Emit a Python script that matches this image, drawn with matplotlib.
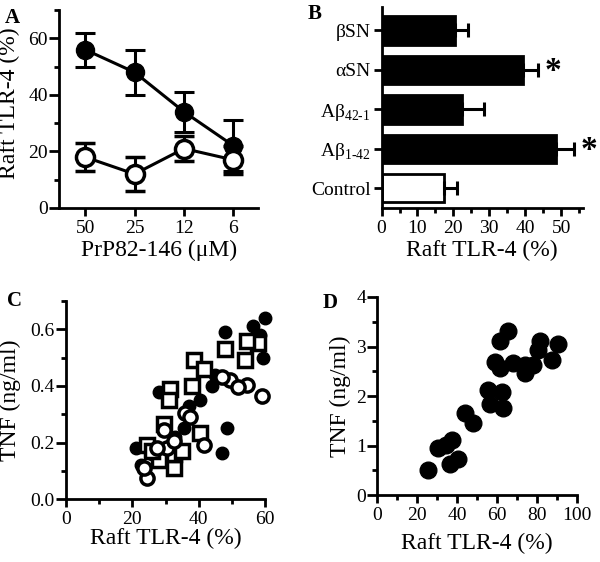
import matplotlib
matplotlib.use("Agg")
from matplotlib import pyplot as plt
from matplotlib.ticker import MultipleLocator, FormatStrFormatter
import numpy as np

plt.rcParams["font.family"] = ["Liberation Serif", "DejaVu Serif"]
plt.rcParams["mathtext.fontset"] = "custom"
plt.rcParams["mathtext.rm"] = "Liberation Serif"
plt.rcParams["axes.linewidth"] = 2.0
plt.rcParams["xtick.major.width"] = 2.0
plt.rcParams["ytick.major.width"] = 2.0
plt.rcParams["xtick.minor.width"] = 2.0
plt.rcParams["ytick.minor.width"] = 2.0
plt.rcParams["xtick.major.size"] = 6
plt.rcParams["ytick.major.size"] = 7
plt.rcParams["xtick.minor.size"] = 3.5
plt.rcParams["ytick.minor.size"] = 3.5
plt.rcParams["xtick.major.pad"] = 2.5
plt.rcParams["ytick.major.pad"] = 1
plt.rcParams["xtick.labelsize"] = 14
plt.rcParams["ytick.labelsize"] = 14

# panel A
conc_labels = ["50", "25", "12", "6"]
a_filled = [56, 48, 34, 22]
a_filled_err = [6, 8, 7, 9]
a_open = [18, 12, 21, 17]
a_open_err = [5, 6, 4.5, 5]

# panel B
b_labels = ["Control", "Aβ$_{\\mathrm{1‐42}}$", "Aβ$_{\\mathrm{42‐1}}$", "αSN", "βSN"]
b_values = [17.5, 48.5, 22.5, 39.5, 20.5]
b_err = [3.5, 5, 6, 4, 3.5]
b_colors = ["white", "black", "black", "black", "black"]
b_star = [False, True, False, True, False]

# panel C
c_fill_x = [60, 56.5, 58.5, 48, 28, 40.5, 44, 48.5, 47, 21, 22.5, 59.5, 35.5, 37, 30, 33, 26, 45]
c_fill_y = [0.64, 0.61, 0.58, 0.59, 0.38, 0.35, 0.40, 0.25, 0.165, 0.18, 0.12, 0.50, 0.25, 0.33, 0.15, 0.22, 0.16, 0.44]
c_sq_x = [38.5, 48, 54, 58, 54.5, 31.5, 31, 38, 29.5, 40.5, 32.5, 24.5, 32.5, 35, 41.5, 28, 26]
c_sq_y = [0.49, 0.53, 0.49, 0.55, 0.56, 0.39, 0.35, 0.40, 0.265, 0.235, 0.11, 0.19, 0.16, 0.17, 0.46, 0.14, 0.17]
c_op_x = [59, 54.5, 49.5, 52, 47, 36, 37.5, 29.5, 41.5, 24.5, 23.5, 30.5, 27.5, 32.5]
c_op_y = [0.365, 0.405, 0.42, 0.395, 0.43, 0.305, 0.29, 0.245, 0.19, 0.075, 0.11, 0.18, 0.18, 0.205]

# panel D
d_x = [65.5, 61.3, 81.3, 90.5, 80.5, 87.2, 58.8, 61.3, 68, 73.8, 78, 73.8,
       55.5, 62.2, 56.3, 63, 43.8, 48, 30.5, 34.5, 37.2, 40.5, 36.3, 25.5]
d_y = [3.32, 3.12, 3.12, 3.06, 2.93, 2.72, 2.69, 2.56, 2.66, 2.62, 2.62, 2.46,
       2.12, 2.09, 1.85, 1.75, 1.65, 1.45, 0.95, 1.02, 1.11, 0.74, 0.64, 0.51]

fig = plt.figure(figsize=(6.0, 5.62), dpi=100)


def style(ax):
    ax.spines["top"].set_visible(False)
    ax.spines["right"].set_visible(False)
    ax.tick_params(which="both", direction="out")


# A
ax = fig.add_axes([0.0983, 0.630, 0.332, 0.352])
style(ax)
xa = np.arange(len(conc_labels))
ax.errorbar(xa, a_filled, yerr=a_filled_err, fmt="-o", color="black", lw=2.2,
            ms=13, capsize=7, capthick=2.2, elinewidth=2.2)
ax.errorbar(xa, a_open, yerr=a_open_err, fmt="-o", color="black", mfc="white",
            mew=2.5, lw=2.2, ms=13, capsize=7, capthick=2.2, elinewidth=2.2)
ax.set_xlim(-0.53, 3.5)
ax.set_ylim(0, 70)
ax.set_xticks(xa)
ax.set_xticklabels(conc_labels)
ax.yaxis.set_major_locator(MultipleLocator(20))
ax.yaxis.set_minor_locator(MultipleLocator(10))
ax.set_xlabel("PrP82-146 (μM)", fontsize=17, labelpad=2)
ax.set_ylabel("Raft TLR-4 (%)", fontsize=17)
ax.yaxis.set_label_coords(-0.196, 0.53)
fig.text(0.008, 0.985, "A", fontsize=15, fontweight="bold", va="top")

# B
ax = fig.add_axes([0.636, 0.630, 0.335, 0.358])
style(ax)
yb = np.arange(len(b_labels))
ax.barh(yb, b_values, height=0.72, color=b_colors, edgecolor="black", lw=2)
ax.errorbar(b_values, yb, xerr=[np.zeros(len(b_err)), b_err], fmt="none",
            ecolor="black", elinewidth=2.2, capsize=5, capthick=2.2)
for yi, v, e, s in zip(yb, b_values, b_err, b_star):
    if s:
        ax.text(v + e + 2, yi - 0.05, "*", fontsize=24, fontweight="bold",
                va="center", ha="left", clip_on=False)
ax.set_xlim(0, 56)
ax.set_ylim(-0.5, 4.6)
ax.set_yticks(yb)
ax.set_yticklabels(b_labels)
ax.tick_params(axis="y", length=6, pad=2)
ax.xaxis.set_major_locator(MultipleLocator(10))
ax.xaxis.set_minor_locator(MultipleLocator(5))
ax.set_xlabel("Raft TLR-4 (%)", fontsize=17, labelpad=2)
fig.text(0.512, 0.992, "B", fontsize=15, fontweight="bold", va="top")

# C
ax = fig.add_axes([0.11, 0.1116, 0.3317, 0.353])
style(ax)
ax.plot(c_fill_x, c_fill_y, "o", color="black", ms=9, clip_on=False)
ax.plot(c_sq_x, c_sq_y, "s", color="black", mfc="white", mew=2.5, ms=9.5, clip_on=False)
ax.plot(c_op_x, c_op_y, "o", color="black", mfc="white", mew=2.5, ms=9.5, clip_on=False)
ax.set_xlim(0, 60)
ax.set_ylim(0, 0.7)
ax.xaxis.set_major_locator(MultipleLocator(20))
ax.xaxis.set_minor_locator(MultipleLocator(10))
ax.yaxis.set_major_locator(MultipleLocator(0.2))
ax.yaxis.set_minor_locator(MultipleLocator(0.1))
ax.yaxis.set_major_formatter(FormatStrFormatter("%.1f"))
ax.set_xlabel("Raft TLR-4 (%)", fontsize=17, labelpad=0)
ax.set_ylabel("TNF (ng/ml)", fontsize=17)
ax.yaxis.set_label_coords(-0.226, 0.5)
fig.text(0.012, 0.482, "C", fontsize=15, fontweight="bold", va="top")

# D
ax = fig.add_axes([0.629, 0.1187, 0.333, 0.353])
style(ax)
ax.plot(d_x, d_y, "o", color="black", ms=12, clip_on=False)
ax.set_xlim(0, 100)
ax.set_ylim(0, 4)
ax.xaxis.set_major_locator(MultipleLocator(20))
ax.xaxis.set_minor_locator(MultipleLocator(10))
ax.yaxis.set_major_locator(MultipleLocator(1))
ax.yaxis.set_minor_locator(MultipleLocator(0.5))
ax.set_xlabel("Raft TLR-4 (%)", fontsize=17, labelpad=6)
ax.set_ylabel("TNF (ng/ml)", fontsize=17, labelpad=4)
fig.text(0.537, 0.478, "D", fontsize=15, fontweight="bold", va="top")

fig.savefig("out.png", dpi=100)
